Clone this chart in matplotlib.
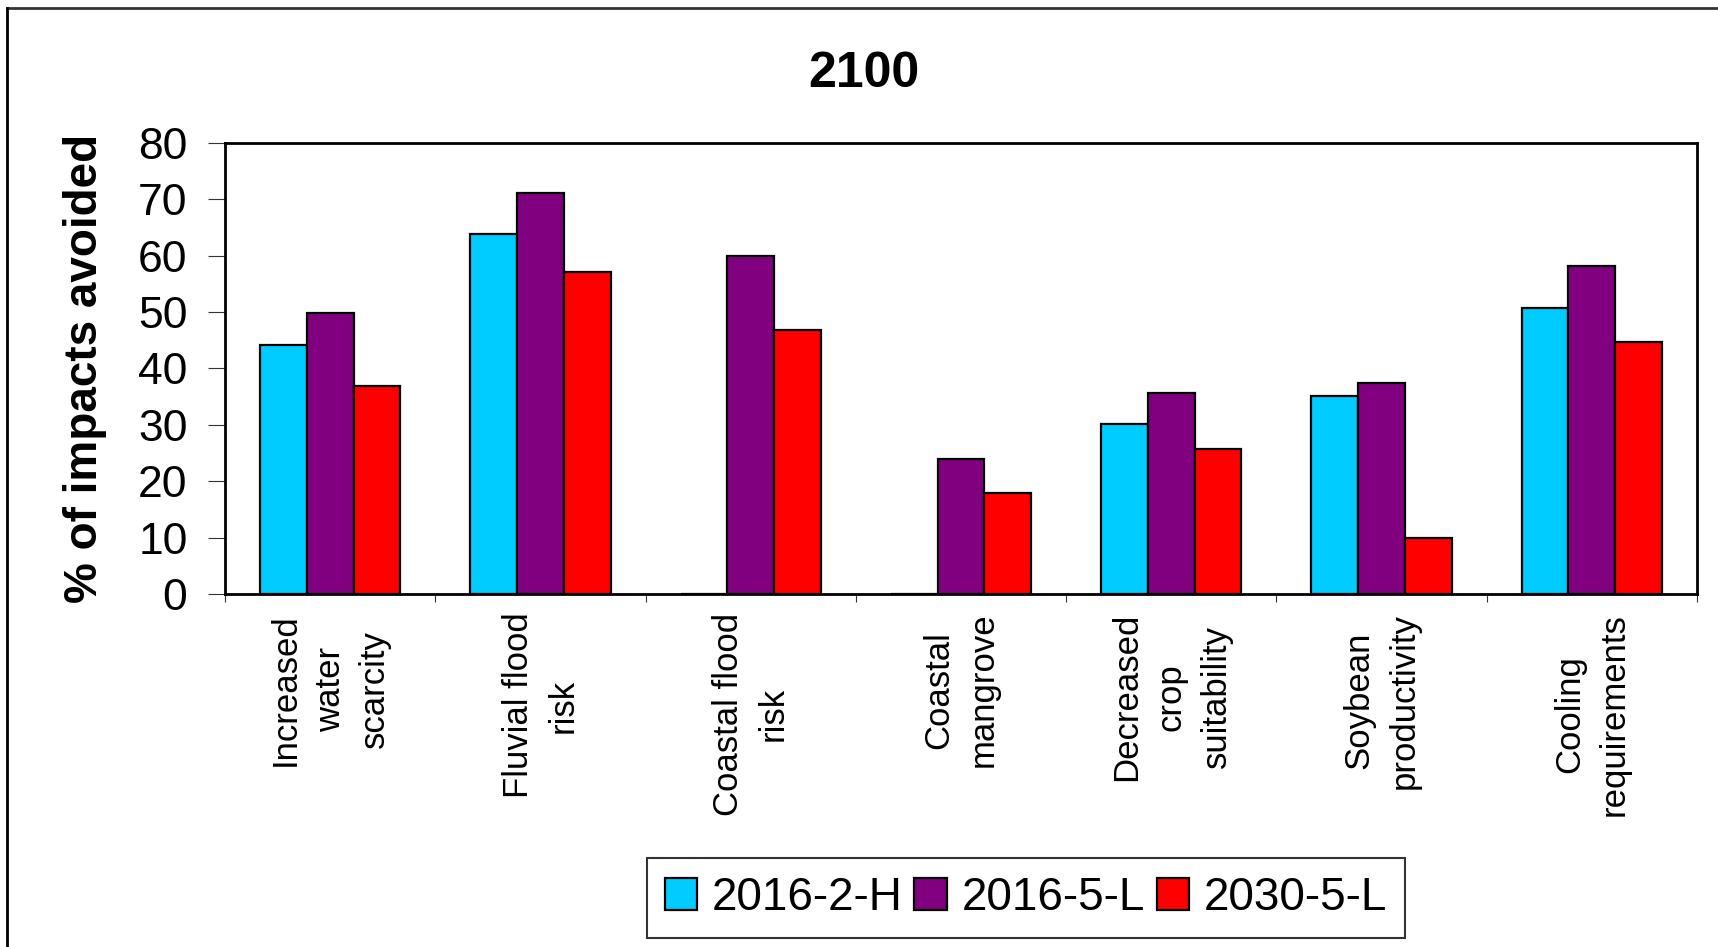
import numpy as np
import matplotlib
matplotlib.use("Agg")
import matplotlib.pyplot as plt
from matplotlib.lines import Line2D

plt.rcParams['font.family'] = ['Liberation Sans', 'DejaVu Sans']

categories = ["Increased\nwater\nscarcity", "Fluvial flood\nrisk", "Coastal flood\nrisk",
              "Coastal\nmangrove", "Decreased\ncrop\nsuitability", "Soybean\nproductivity",
              "Cooling\nrequirements"]
series_names = ["2016-2-H", "2016-5-L", "2030-5-L"]
s_2016_2_h = [44.1, 63.8, 0, 0, 30.2, 35.2, 50.8]
s_2016_5_l = [49.8, 71.1, 59.9, 24.0, 35.7, 37.5, 58.1]
s_2030_5_l = [36.9, 57.1, 46.9, 17.9, 25.7, 10.0, 44.7]
colors = ["#00CCFF", "#800080", "#FF0000"]

fig = plt.figure(figsize=(17.18, 9.47), dpi=100)
ax = fig.add_axes([225 / 1718, 1 - 594 / 947, (1697 - 225) / 1718, (594 - 143) / 947])

x = np.arange(len(categories))
w = 1 / 4.5
for i, (vals, name, c) in enumerate(zip([s_2016_2_h, s_2016_5_l, s_2030_5_l], series_names, colors)):
    ax.bar(x + (i - 1) * w, vals, width=w, color=c, edgecolor="black", linewidth=1.6, label=name)

ax.set_xlim(-0.5, len(categories) - 0.5)
ax.set_ylim(0, 80)
ax.set_yticks(range(0, 81, 10))
ax.tick_params(axis="y", labelsize=32, length=12, width=0.8, pad=15, color="#333333")

ax.set_xticks(x)
ax.set_xticklabels(categories, rotation=90, fontsize=25, va="top", ha="center",
                   multialignment="center", linespacing=1.45)
ax.tick_params(axis="x", which="major", length=0, pad=13.5)
ax.set_xticks(np.arange(-0.5, len(categories)), minor=True)
ax.tick_params(axis="x", which="minor", length=6, width=0.8, color="#333333")

for s in ax.spines.values():
    s.set_linewidth(2)
    s.set_color("black")

ax.set_ylabel("% of impacts avoided", fontsize=33, fontweight="bold", labelpad=0)
ax.yaxis.set_label_coords((107 - 225) / (1697 - 225), 0.5)

fig.text(864 / 1718, 1 - 74 / 947, "2100", fontsize=36, fontweight="bold", ha="center", va="center")

leg = fig.legend(loc="center", bbox_to_anchor=(1026 / 1718, 1 - 898 / 947), ncol=3,
                 fontsize=33, handlelength=0.7, handleheight=0.7, handletextpad=0.33,
                 columnspacing=0.25, borderpad=0.4, fancybox=False, framealpha=1)
leg.get_frame().set_edgecolor("#333333")
leg.get_frame().set_linewidth(1.5)

# outer chart border (top and left edges visible)
fig.add_artist(Line2D([7 / 1718, 1], [1 - 8 / 947, 1 - 8 / 947], transform=fig.transFigure,
                      color="#333333", linewidth=2))
fig.add_artist(Line2D([7 / 1718, 7 / 1718], [0, 1 - 8 / 947], transform=fig.transFigure,
                      color="black", linewidth=2))

fig.savefig("out.png", dpi=100)
